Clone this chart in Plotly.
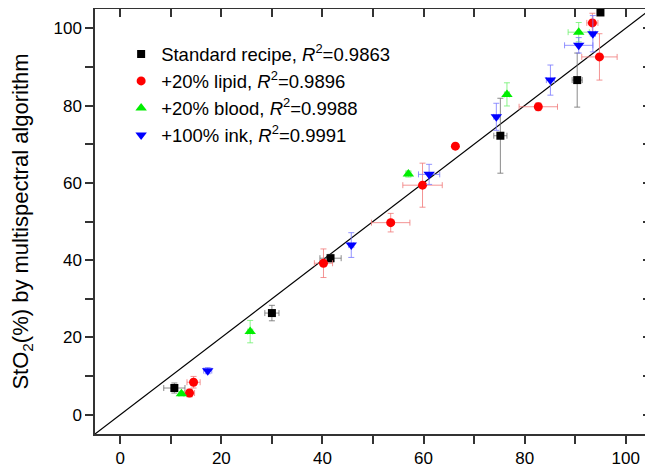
import plotly.graph_objects as go

# ---------------- data ----------------
std_x = [10.7, 30.0, 41.6, 75.2, 90.4, 95.0]
std_y = [6.9, 26.3, 40.5, 72.2, 86.6, 104.1]
std_ex = [2.1, 1.4, 2.1, 1.3, 1.0, 0.5]
std_ey = [1.3, 2.0, 1.0, 9.7, 7.0, 0.5]

lip_x = [14.5, 13.7, 40.2, 53.5, 59.8, 66.3, 82.7, 94.8, 93.4]
lip_y = [8.4, 5.6, 39.2, 49.7, 59.4, 69.5, 79.7, 92.6, 101.4]
lip_ex = [1.3, 1.0, 1.8, 3.8, 3.9, 0.0, 3.8, 3.5, 1.1]
lip_ey = [1.5, 1.0, 3.7, 2.4, 5.7, 0.0, 1.0, 6.0, 2.5]

bld_x = [12.1, 25.7, 57.0, 76.5, 90.7]
bld_y = [5.4, 21.5, 62.3, 82.9, 99.0]
bld_ex = [0.5, 0.5, 0.5, 0.5, 2.1]
bld_ey = [0.5, 2.9, 0.8, 3.0, 2.5]

ink_x = [17.3, 45.7, 61.1, 74.4, 85.1, 90.7, 93.5]
ink_y = [11.4, 43.9, 62.2, 77.1, 86.6, 95.6, 98.6]
ink_ex = [0.8, 0.5, 2.1, 0.5, 0.8, 2.8, 0.5]
ink_ey = [0.8, 3.2, 2.6, 3.5, 3.9, 2.0, 4.7]

series_names = [
    "Standard recipe, <i>R</i><sup>2</sup>=0.9863",
    "+20% lipid, <i>R</i><sup>2</sup>=0.9896",
    "+20% blood, <i>R</i><sup>2</sup>=0.9988",
    "+100% ink, <i>R</i><sup>2</sup>=0.9991",
]

axis_range = [-5, 105]
tick_vals = [0, 10, 20, 30, 40, 50, 60, 70, 80, 90, 100]
tick_text = ["0", "", "20", "", "40", "", "60", "", "80", "", "100"]
y_title = "StO<sub>2</sub>(%) by multispectral algorithm"

# ---------------- figure ----------------
FONT = "Liberation Sans, Arial, sans-serif"
fig = go.Figure()

# identity line
fig.add_trace(go.Scatter(x=axis_range, y=axis_range, mode="lines",
                         line=dict(color="black", width=1.2),
                         showlegend=False, hoverinfo="skip"))

styles = [
    (std_x, std_y, std_ex, std_ey, "square", "#000000", "rgba(110,110,110,0.8)", 8),
    (lip_x, lip_y, lip_ex, lip_ey, "circle", "#ff0000", "rgba(240,120,120,0.8)", 9),
    (bld_x, bld_y, bld_ex, bld_ey, "triangle-up", "#00ee00", "rgba(110,240,110,0.8)", 10),
    (ink_x, ink_y, ink_ex, ink_ey, "triangle-down", "#0000ff", "rgba(120,120,255,0.8)", 10),
]
for (xs, ys, ex, ey, sym, col, ecol, sz), name in zip(styles, series_names):
    fig.add_trace(go.Scatter(
        x=xs, y=ys, mode="markers", name=name,
        marker=dict(symbol=sym, color=col, size=sz, line=dict(width=0)),
        error_x=dict(type="data", array=ex, visible=True, color=ecol, thickness=1, width=3),
        error_y=dict(type="data", array=ey, visible=True, color=ecol, thickness=1, width=3),
    ))

axis_common = dict(range=axis_range, tickvals=tick_vals, ticktext=tick_text,
                   showgrid=False, zeroline=False, showline=True, automargin=False,
                   linecolor="#333333", linewidth=1.5, ticklen=8, tickwidth=1.5,
                   tickcolor="#333333", tickfont=dict(family=FONT, size=17, color="black"))
mirror_common = dict(range=axis_range, tickvals=tick_vals, ticks="inside", ticklen=8,
                     tickwidth=1.5, tickcolor="#333333", showticklabels=False,
                     showgrid=False, zeroline=False, showline=True, automargin=False,
                     linecolor="#333333", linewidth=1.5)

# the page adds an 8px body margin, so the figure is sized to fit the window
fig.update_layout(
    width=645, height=461,
    margin=dict(l=87, r=2, t=1, b=35, autoexpand=False),
    paper_bgcolor="white", plot_bgcolor="white",
    font=dict(family=FONT, color="black"),
    xaxis=dict(**axis_common, ticks="outside"),
    yaxis=dict(**axis_common, ticks="outside",
               title=dict(text=y_title, font=dict(family=FONT, size=22), standoff=26)),
    xaxis2=dict(**mirror_common, overlaying="x", side="top"),
    yaxis2=dict(**mirror_common, overlaying="y", side="right"),
    legend=dict(x=0.047, y=0.938, xanchor="left", yanchor="top",
                bgcolor="rgba(0,0,0,0)", font=dict(family=FONT, size=18.5),
                itemwidth=30, tracegroupgap=0),
)
# dummy trace to activate secondary axes
fig.add_trace(go.Scatter(x=[None], y=[None], xaxis="x2", yaxis="y2",
                         showlegend=False, hoverinfo="skip"))

fig.write_html("out.html")
